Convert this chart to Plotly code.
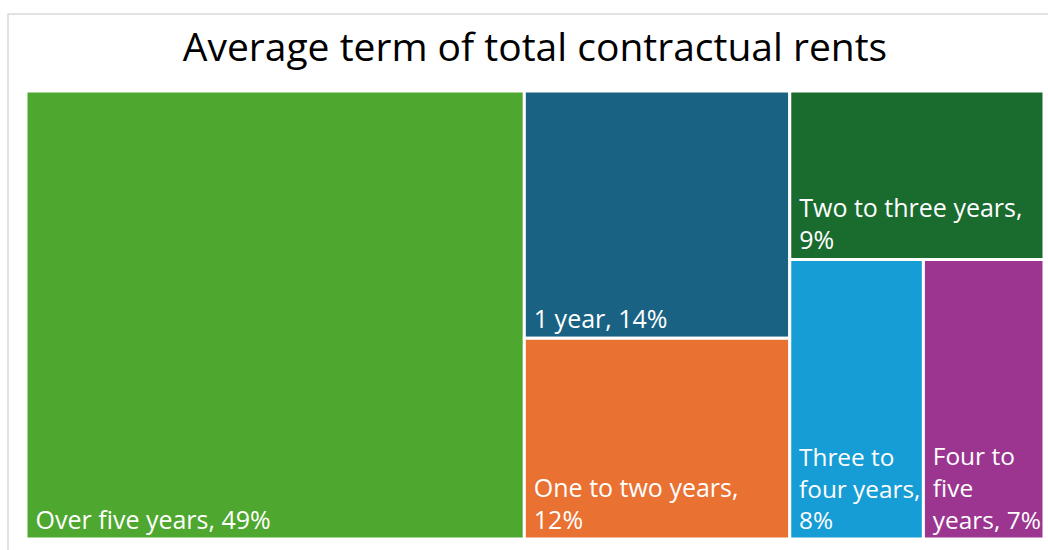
import plotly.graph_objects as go

labels = ["Over five years", "1 year", "One to two years",
          "Two to three years", "Three to four years", "Four to five years"]
# shares in percent (estimated from tile areas; labels show them rounded)
values = [49.0, 14.4, 11.7, 9.4, 8.2, 7.4]
wrapped_labels = ["Over five years", "1 year", "One to two years",
                  "Two to three years", "Three to<br>four years", "Four to<br>five<br>years"]
separators = [", ", ", ", ",<br>", ",<br>", ",<br>", ", "]
colors = ["#4EA72E", "#196283", "#E97132", "#196B2E", "#179DD5", "#9B3590"]

NB = "\u00a0"
texts = []
for w, s, v in zip(wrapped_labels, separators, values):
    t = f"{w}{s}{round(v)}%"
    texts.append("<br>".join(NB + line for line in t.split("<br>")))

fig = go.Figure(go.Treemap(
    labels=labels,
    parents=[""] * len(labels),
    values=values,
    text=texts,
    texttemplate="%{text}",
    textposition="bottom left",
    textfont=dict(family="Open Sans, sans-serif", size=25, color="white"),
    marker=dict(colors=colors, line=dict(color="white", width=3), pad=dict(t=0, l=0, r=0, b=0)),
    tiling=dict(packing="squarify", squarifyratio=1.28, pad=0),
    pathbar=dict(visible=False),
    sort=True,
    hoverinfo="skip",
))

fig.update_layout(
    width=1048, height=550,
    margin=dict(l=26, r=4, t=91, b=11),
    paper_bgcolor="white",
    title=dict(text="Average term of total contractual rents",
               font=dict(family="Open Sans, sans-serif", size=39, color="black"),
               x=0.5, xref="paper", xanchor="center",
               y=1 - 47 / 550, yref="container", yanchor="middle"),
    shapes=[dict(type="rect", xref="paper", yref="paper",
                 x0=-18 / 1018, x1=1.05, y0=-0.1, y1=1 + 77 / 448,
                 line=dict(color="#D9D9D9", width=1.5), fillcolor="rgba(0,0,0,0)")],
)

fig.write_html("out.html")
